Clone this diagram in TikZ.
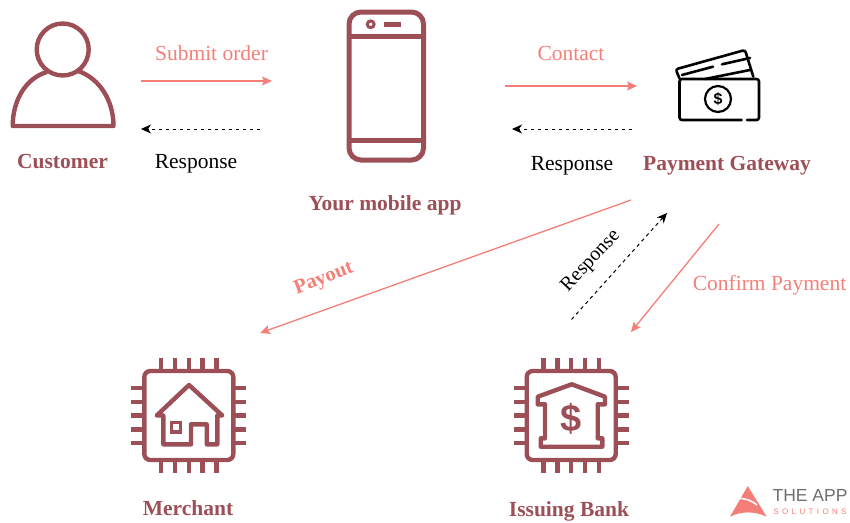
\documentclass[tikz,border=0pt]{standalone}
\usepackage{fontspec}
\setmainfont{Liberation Serif}
\newfontfamily\logofont{Liberation Sans}
\usetikzlibrary{arrows.meta}
\definecolor{maroon}{HTML}{9C4F57}
\definecolor{salmon}{HTML}{F47F78}
\definecolor{logogray}{HTML}{6E6E6E}
\tikzset{
  icon/.style={draw=maroon,line width=4.4pt},
  iconb/.style={draw=black,line width=2.6pt,line cap=round},
  title/.style={font=\fontsize{21.5}{24}\selectfont\bfseries,text=maroon,inner sep=0pt},
  lab/.style={font=\fontsize{21.5}{24}\selectfont,text=salmon,inner sep=0pt},
  labk/.style={font=\fontsize{21.5}{24}\selectfont,text=black,inner sep=0pt},
  go/.style={draw=salmon,line width=1.3pt,-{Stealth[length=10pt,width=9pt,inset=2pt]}},
  back/.style={draw=black,line width=1pt,dash pattern=on 3.5pt off 3.5pt,-{Stealth[length=10pt,width=9pt,inset=3pt]}},
  chip/.pic={
    \draw[icon,rounded corners=6pt] (-44.5,-44.5) rectangle (44.5,44.5);
    \foreach \k in {-27.6,-13.8,0,13.8,27.6} {
      \draw[icon] (\k,-44.5) -- (\k,-57.5);
      \draw[icon] (\k,44.5) -- (\k,57.5);
      \draw[icon] (-44.5,\k) -- (-57.5,\k);
      \draw[icon] (44.5,\k) -- (57.5,\k);
    }
  }
}
\begin{document}
\begin{tikzpicture}[x=1pt,y=-1pt]
\useasboundingbox (0,0) rectangle (850,522);

% customer
\draw[icon] (62.7,49.5) circle (26);
\draw[icon,line join=round] (47,72) .. controls (26,78) and (12.7,100) .. (12.7,126) -- (113.5,126) .. controls (113.5,100) and (99,78) .. (78,71);
\node[title] (customer) at (62.5,162) {Customer};

% phone
\draw[icon,line width=5pt,rounded corners=12pt] (349,12) rectangle (423.5,160);
\draw[icon,line width=5pt] (349,36) -- (423.5,36);
\draw[icon,line width=5pt] (349,140.5) -- (423.5,140.5);
\draw[icon,line width=3pt] (370.7,24.3) circle (3.4);
\draw[icon,line width=5pt] (383.5,24.3) -- (401,24.3);
\node[title] (app) at (385,205) {Your mobile app};

% gateway
\draw[iconb,rounded corners=2.5pt] (741.5,120) -- (679.5,120) -- (679.5,79) -- (759,79) -- (759,120) -- (747,120);
\draw[iconb,rounded corners=2.5pt] (679.5,78.5) -- (675.7,69.3) -- (745,50) -- (753.3,76.7);
\draw[iconb] (682,75) -- (713,66.7);
\draw[iconb] (722,64.3) -- (750,58);
\draw[iconb] (705,79) -- (750,70);
\draw[iconb,line width=2.2pt] (718,99) circle (13);
\node[font=\logofont\fontsize{16}{16}\selectfont\bfseries,inner sep=0pt] (dollar) at (718,99) {\$};
\node[title] (gateway) at (727,166) {Payment Gateway};

% merchant
\pic at (188.8,415.5) {chip};
\draw[icon,line join=round] (163.3,444.3) -- (163.3,415.5) -- (156.7,415.5) -- (189,385) -- (222.3,415.5) -- (217.3,415.5) -- (217.3,444.3) -- (206.7,444.3) -- (206.7,424.3) -- (191,424.3) -- (191,444.3) -- cycle;
\draw[icon,line width=3.5pt] (171.5,422.5) rectangle (180.5,432);
\node[title] (merchant) at (188,508) {Merchant};

% bank
\pic at (571.2,415.5) {chip};
\draw[icon,line join=round] (545,404.3) -- (537.7,404.3) -- (537.7,396.7) -- (571.7,384.3) -- (605,396.7) -- (605,404.3) -- (597.7,404.3) -- (597.7,438.3) -- (602.3,438.3) -- (602.3,446.7) -- (540.7,446.7) -- (540.7,438.3) -- (545,438.3) -- cycle;
\node[font=\logofont\fontsize{38}{38}\selectfont\bfseries,text=maroon,inner sep=0pt] (bankdollar) at (571,419) {\$};
\node[title] (bank) at (569,511) {Issuing Bank};

% free ends
\coordinate (submitA) at (141,81);
\coordinate (submitB) at (272,81);
\coordinate (respA) at (260,129);
\coordinate (respB) at (141,129);
\coordinate (contactA) at (505,86);
\coordinate (contactB) at (637,86);
\coordinate (resp2A) at (632,129);
\coordinate (resp2B) at (512,129);
\coordinate (payA) at (631,200);
\coordinate (payB) at (260,333);
\coordinate (resp3A) at (571.5,319.5);
\coordinate (resp3B) at (667,213);
\coordinate (confA) at (719,224);
\coordinate (confB) at (631,332);

\draw[go] (submitA) -- (submitB);
\draw[back] (respA) -- (respB);
\draw[go] (contactA) -- (contactB);
\draw[back] (resp2A) -- (resp2B);
\draw[go] (payA) -- (payB);
\draw[back] (resp3A) -- (resp3B);
\draw[go] (confA) -- (confB);

\node[lab] (submit) at (211.5,53) {Submit order};
\node[labk] (resp) at (196,164) {Response};
\node[lab] (contact) at (571,53) {Contact};
\node[labk] (resp2) at (572,166) {Response};
\node[lab,font=\fontsize{20.5}{24}\selectfont\bfseries,rotate=21] (payout) at (324,279) {Payout};
\node[labk,font=\fontsize{20}{24}\selectfont,rotate=47] (resp3) at (591,261) {Response};
\node[lab] (confirm) at (769.5,285) {Confirm Payment};

% logo
\fill[salmon] (747.7,486) -- (730,516.7) .. controls (741,511) and (755,511) .. (766.7,516.7) -- cycle;
\draw[white,line width=1.5pt] (729,499) .. controls (740,497) and (750,499) .. (757,505);
\node[font=\logofont\fontsize{17.5}{18}\selectfont,text=logogray,inner sep=0pt] (logoa) at (810,495) {THE APP};
\node[font=\logofont\fontsize{8}{8}\selectfont\addfontfeature{LetterSpace=42},text=salmon,inner sep=0pt] (logob) at (810,512) {SOLUTIONS};
\end{tikzpicture}
\end{document}
